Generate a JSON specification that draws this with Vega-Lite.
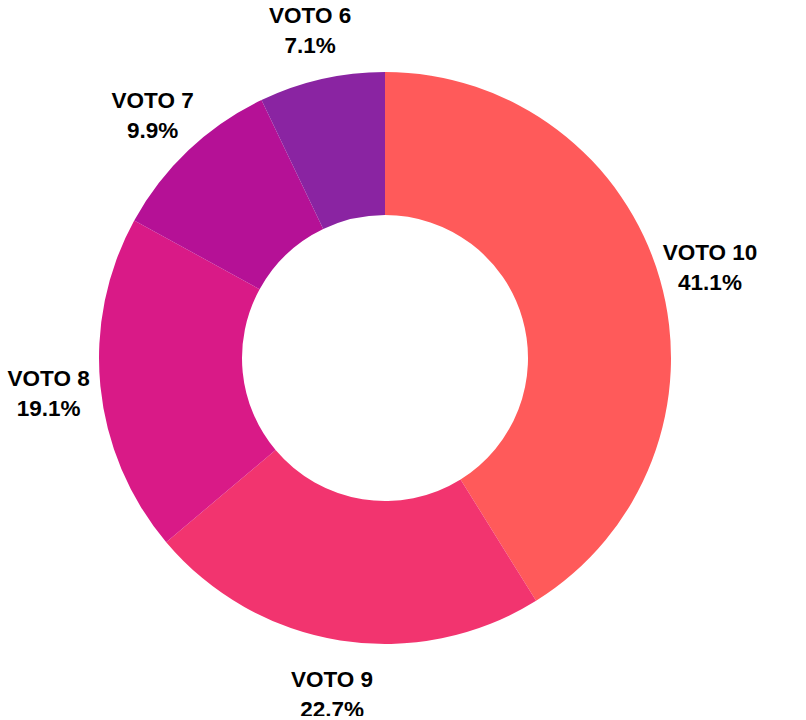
{
  "$schema": "https://vega.github.io/schema/vega-lite/v6.json",
  "width": 760,
  "height": 706,
  "padding": 5,
  "autosize": {"type": "none"},
  "background": "white",
  "view": {"stroke": null},
  "data": {"values": [
    {"voto": "VOTO 10", "pct": 41.1, "label": "VOTO 10\n41.1%"},
    {"voto": "VOTO 9", "pct": 22.7, "label": "VOTO 9\n22.7%"},
    {"voto": "VOTO 8", "pct": 19.1, "label": "VOTO 8\n19.1%"},
    {"voto": "VOTO 7", "pct": 9.9, "label": "VOTO 7\n9.9%"},
    {"voto": "VOTO 6", "pct": 7.1, "label": "VOTO 6\n7.1%"}
  ]},
  "encoding": {
    "theta": {"field": "pct", "type": "quantitative", "stack": true},
    "order": {"field": "pct", "type": "quantitative", "sort": "descending"}
  },
  "layer": [
    {
      "mark": {"type": "arc", "outerRadius": 286, "innerRadius": 143},
      "encoding": {
        "color": {
          "field": "voto", "type": "nominal", "legend": null,
          "scale": {
            "domain": ["VOTO 10", "VOTO 9", "VOTO 8", "VOTO 7", "VOTO 6"],
            "range": ["#FF5A5A", "#F2346F", "#D91A87", "#B51196", "#8A24A2"]
          }
        }
      }
    },
    {
      "mark": {"type": "text", "radius": 338, "align": "center", "baseline": "middle", "dy": -12, "lineBreak": "\n", "lineHeight": 30, "font": "Liberation Sans", "fontSize": 22.5, "fontWeight": "bold", "color": "#000000"},
      "encoding": {
        "text": {"field": "label", "type": "nominal"}
      }
    }
  ]
}
